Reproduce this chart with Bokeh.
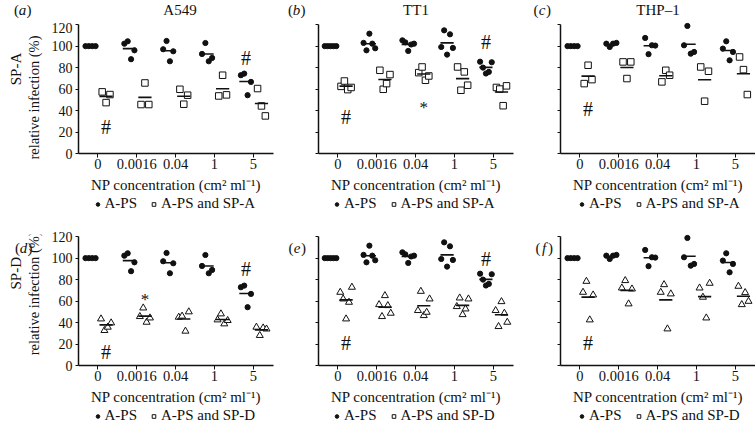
import numpy as np
from bokeh.plotting import figure
from bokeh.models import Range1d, FixedTicker, Label, Legend, LegendItem, ColumnDataSource
from bokeh.layouts import row, column
from bokeh.embed import file_html
from bokeh.resources import INLINE
from bokeh.core.properties import value

# ---------------- data ----------------
CONCS = ["0", "0.0016", "0.04", "1", "5"]
X_LABEL = "NP concentration (cm\u00b2 ml\u207b\u00b9)"
Y_LABEL = "relative infection (%)"
CELLS = ["A549", "TT1", "THP\u20131"]
LETTERS = [["a", "b", "c"], ["d", "e", "f"]]
PROTEINS = ["SP-A", "SP-D"]
Y_TICKS = [0, 20, 40, 60, 80, 100, 120]

A549_APS = [[100, 100, 100, 100], [102.3, 104.5, 87.8, 96.1], [97.1, 104.8, 85.9, 95.2],
            [92.7, 102.9, 85.9, 89.0], [72.9, 74.4, 54.3, 66.7]]
TT1_APS = [[100, 100, 100, 100, 100], [103.0, 96.1, 111.6, 102.3, 98.0],
           [105.4, 103.5, 95.5, 101.5, 102.3], [99.2, 114.7, 92.1, 111.0, 98.3],
           [85.5, 80.0, 74.5, 76.0, 85.0]]
THP1_APS = [[100, 100, 100, 100], [102.3, 99.2, 102.3, 103.0], [107.6, 92.5, 100.8, 100.5],
            [100.8, 118.8, 93.0, 94.6], [97.7, 104.5, 86.8, 94.6]]

A549_SPA = [[57.4, 47.4, 54.9], [45.6, 65.7, 45.6], [59.8, 45.9, 54.3],
            [53.6, 72.9, 54.6], [60.5, 44.3, 35.0]]
TT1_SPA = [[62.5, 67.5, 59.5, 61.5], [77.5, 59.8, 65.1, 73.5], [75.3, 80.6, 68.2, 72.2],
           [80.6, 58.9, 76.0, 63.6], [61.5, 60.0, 44.5, 63.0]]
THP1_SPA = [[65.1, 82.2, 68.8], [85.3, 69.8, 85.3], [66.7, 77.5, 72.9],
            [80.6, 48.7, 76.6], [89.9, 78.1, 54.9]]

A549_SPD = [[43.4, 32.6, 35.7, 39.7], [45.6, 53.6, 40.3, 44.3], [45.0, 46.0, 32.0, 50.0],
            [42.5, 48.1, 38.8, 41.9], [35.7, 28.0, 35.0, 34.0]]
TT1_SPD = [[68.2, 62.0, 43.4, 58.9, 72.9], [56.7, 45.6, 65.1, 55.8, 48.7],
           [51.2, 69.1, 46.5, 49.6, 62.0], [54.9, 62.9, 47.4, 52.7, 62.0],
           [51.2, 36.3, 59.5, 48.7, 40.3]]
THP1_SPD = [[68.2, 78.4, 42.5, 65.7], [72.2, 79.1, 57.4, 71.3], [68.2, 75.3, 34.1, 66.7],
            [72.2, 63.6, 44.3, 76.6], [73.8, 56.7, 67.9, 59.8]]

# significance marks: (text, concentration, series, y value)
MARKS_A = [("#", "0", "sp", 25.7), ("#", "5", "aps", 90.0)]
MARKS_B = [("#", "0", "sp", 35.0), ("*", "0.04", "sp", 48.7), ("#", "5", "aps", 104.5)]
MARKS_C = [("#", "0", "sp", 42.5)]
MARKS_D = [("#", "0", "sp", 13.3), ("*", "0.0016", "sp", 67.3), ("#", "5", "aps", 90.5)]
MARKS_E = [("#", "0", "sp", 22.3), ("#", "5", "aps", 100.2)]
MARKS_F = [("#", "0", "sp", 21.7)]

# ---------------- styling / layout ----------------
FONT = "Liberation Serif"
INK = "#111111"
STRIP_W = [46, 34, 31]          # text strips left of each panel
PANEL_W = [234, 211, 199]
PANEL_BL = [32, 4, 4]
PANEL_BR = [7, 12, 0]
HEAD_H = 22                     # header strip above the first row (right of strip 0)
HEAD_LETTER_X = [250, 495.5]    # (b), (c) inside the header strip
HEAD_TITLE_X = [133.5, 369.5, 611.5]
LETTER_X = [[22, 16, 16.5], [23, 16.5, 18.5]]
FRAME_H = 131
ROW_BT = [0, 22]
ROW_BB = [43, 43]
LEG_H = 16
LEG_X = [92.5, 332, 577]
SP_LAB_Y = [68.5, 58.0]
REL_LAB_Y = [97.0, 88.0]
APS_C, SP_C = -0.19, 0.21
SPREAD = {1: 0.0, 2: 0.06, 3: 0.1, 4: 0.13, 5: 0.15}
HALF_BAR = 0.17
TOTAL_W = sum(STRIP_W) + sum(PANEL_W)


def pattern(n):
    if n == 1:
        return np.array([0.0])
    return np.linspace(-SPREAD[n], SPREAD[n], n)


def blank_fig(w, h, flip=True):
    f = figure(width=w, height=h, x_range=Range1d(0, w),
               y_range=Range1d(h, 0) if flip else Range1d(0, h), title=None,
               output_backend="svg", toolbar_location=None,
               min_border_left=0, min_border_right=0, min_border_top=0, min_border_bottom=0)
    f.axis.visible = False
    f.xgrid.visible = False
    f.ygrid.visible = False
    f.outline_line_color = None
    return f


def add_letter(s, letter, cx, cy):
    s.add_layout(Label(x=cx - 3.6, y=cy, text="(", text_font=FONT, text_font_size="15px",
                       text_align="right", text_baseline="middle", text_color=INK))
    s.add_layout(Label(x=cx, y=cy, text=letter, text_font=FONT, text_font_size="15px",
                       text_font_style="italic", text_align="center",
                       text_baseline="middle", text_color=INK))
    s.add_layout(Label(x=cx + 3.9, y=cy, text=")", text_font=FONT, text_font_size="15px",
                       text_align="left", text_baseline="middle", text_color=INK))


def header_strip():
    s = blank_fig(TOTAL_W - STRIP_W[0], HEAD_H)
    for c in range(3):
        if c > 0:
            add_letter(s, LETTERS[0][c], HEAD_LETTER_X[c - 1], 9)
        s.add_layout(Label(x=HEAD_TITLE_X[c], y=9, text=CELLS[c], text_font=FONT,
                           text_font_size="15px", text_align="center",
                           text_baseline="middle", text_color=INK))
    return s


def text_strip(r, c, extra_top=0):
    h = extra_top + ROW_BT[r] + FRAME_H + ROW_BB[r]
    s = blank_fig(STRIP_W[c], h)
    if r == 1 or c == 0:
        add_letter(s, LETTERS[r][c], LETTER_X[r][c], 9 if r == 0 else 20)
    if c == 0:
        s.add_layout(Label(x=15, y=SP_LAB_Y[r], text=PROTEINS[r], angle=np.pi / 2,
                           text_font=FONT, text_font_size="15px", text_align="center",
                           text_baseline="middle", text_color=INK))
        s.add_layout(Label(x=33, y=REL_LAB_Y[r], text=Y_LABEL, angle=np.pi / 2,
                           text_font=FONT, text_font_size="14.5px", text_align="center",
                           text_baseline="middle", text_color=INK))
    return s


def make_panel(r, c, aps, sp, marks, marker):
    p = figure(width=PANEL_W[c], height=ROW_BT[r] + FRAME_H + ROW_BB[r],
               x_range=Range1d(0.5, 5.52), y_range=Range1d(0, 122), title=None,
               output_backend="svg", toolbar_location=None,
               min_border_left=PANEL_BL[c], min_border_right=PANEL_BR[c],
               min_border_top=ROW_BT[r], min_border_bottom=ROW_BB[r])
    p.outline_line_color = None
    p.xgrid.visible = False
    p.ygrid.visible = False

    ax, ay, sx, sy = [], [], [], []
    mx0, mx1, my = [], [], []
    for i, _ in enumerate(CONCS):
        base = i + 1
        for vals, ctr, xs, ys in ((aps[i], APS_C, ax, ay), (sp[i], SP_C, sx, sy)):
            offs = pattern(len(vals))
            xs.extend(list(base + ctr + offs))
            ys.extend(vals)
            mx0.append(base + ctr - HALF_BAR)
            mx1.append(base + ctr + HALF_BAR)
            my.append(float(np.mean(vals)))

    p.scatter(ax, ay, marker="circle", size=5.2, fill_color=INK, line_color=INK)
    p.scatter(sx, sy, marker=marker, size=6.5 if marker == "square" else 7,
              fill_color="white", line_color=INK, line_width=1)
    p.segment(mx0, my, mx1, my, line_color=INK, line_width=1.6)

    tx, ty, tt, toff, tsz = [], [], [], [], []
    for text, conc, side, yv in marks:
        base = CONCS.index(conc) + 1
        tx.append(base + (SP_C if side == "sp" else APS_C))
        ty.append(yv)
        tt.append(text)
        toff.append(6 if text == "*" else 1)
        tsz.append("17px" if text == "*" else "20px")
    src = ColumnDataSource(dict(x=tx, y=ty, t=tt, off=toff, sz=tsz))
    p.text("x", "y", text="t", source=src, text_font=value(FONT), text_font_size="sz",
           text_align="center", text_baseline="middle", y_offset="off", text_color=INK)

    p.yaxis.ticker = FixedTicker(ticks=Y_TICKS)
    p.yaxis.bounds = (0, 120)
    p.xaxis.ticker = FixedTicker(ticks=[1, 2, 3, 4, 5])
    p.xaxis.major_label_overrides = {i + 1: cc for i, cc in enumerate(CONCS)}
    for axis in (p.xaxis[0], p.yaxis[0]):
        axis.axis_line_color = INK
        axis.axis_line_width = 1.5
        axis.major_tick_line_color = INK
        axis.major_tick_in = 0
        axis.minor_tick_line_color = None
        axis.major_label_text_font = FONT
        axis.major_label_text_color = INK
    p.yaxis.major_label_text_font_size = "14px"
    p.xaxis.major_label_text_font_size = "14.5px"
    p.yaxis.major_tick_out = 3
    p.yaxis.major_label_standoff = 3
    if c != 0:
        p.yaxis.major_label_overrides = {v: "" for v in Y_TICKS}
        p.yaxis.major_label_standoff = 0
    p.xaxis.major_tick_out = 4
    p.xaxis.major_label_standoff = 1
    p.xaxis.axis_label = X_LABEL
    p.xaxis.axis_label_text_font = FONT
    p.xaxis.axis_label_text_font_size = "15px"
    p.xaxis.axis_label_text_font_style = "normal"
    p.xaxis.axis_label_text_color = INK
    p.xaxis.axis_label_standoff = 5
    return p


def legend_strip(r):
    s = blank_fig(TOTAL_W, LEG_H, flip=False)
    # legend-only renderers: a single point kept outside the visible range
    r1 = s.scatter(x=[-50], y=[-50], marker="circle", size=5, fill_color=INK, line_color=INK)
    r2 = s.scatter(x=[-50], y=[-50], marker="square", size=7, fill_color="white",
                   line_color=INK, line_width=1)
    for c in range(3):
        leg = Legend(items=[LegendItem(label="A-PS", renderers=[r1]),
                            LegendItem(label="A-PS and " + PROTEINS[r], renderers=[r2])],
                     orientation="horizontal", location=(LEG_X[c], 0), margin=0, padding=0,
                     spacing=12, glyph_width=9, glyph_height=LEG_H, label_height=LEG_H,
                     label_standoff=3, label_text_font=FONT, label_text_font_size="15px",
                     label_text_color=INK, border_line_color=None, background_fill_alpha=0)
        s.add_layout(leg)
    return s


APS = [A549_APS, TT1_APS, THP1_APS]
SPA = [A549_SPA, TT1_SPA, THP1_SPA]
SPD = [A549_SPD, TT1_SPD, THP1_SPD]
MARKS = [[MARKS_A, MARKS_B, MARKS_C], [MARKS_D, MARKS_E, MARKS_F]]

# first row: tall text strip on the left, header + panels on the right
r0_items = [make_panel(0, 0, APS[0], SPA[0], MARKS[0][0], "square")]
for c in (1, 2):
    r0_items.append(text_strip(0, c))
    r0_items.append(make_panel(0, c, APS[c], SPA[c], MARKS[0][c], "square"))
top_block = row(text_strip(0, 0, extra_top=HEAD_H), column(header_strip(), row(*r0_items)))

r1_items = []
for c in range(3):
    r1_items.append(text_strip(1, c))
    r1_items.append(make_panel(1, c, APS[c], SPD[c], MARKS[1][c], "triangle"))

layout = column(top_block, legend_strip(0), row(*r1_items), legend_strip(1))
open("out.html", "w").write(file_html(layout, INLINE))
